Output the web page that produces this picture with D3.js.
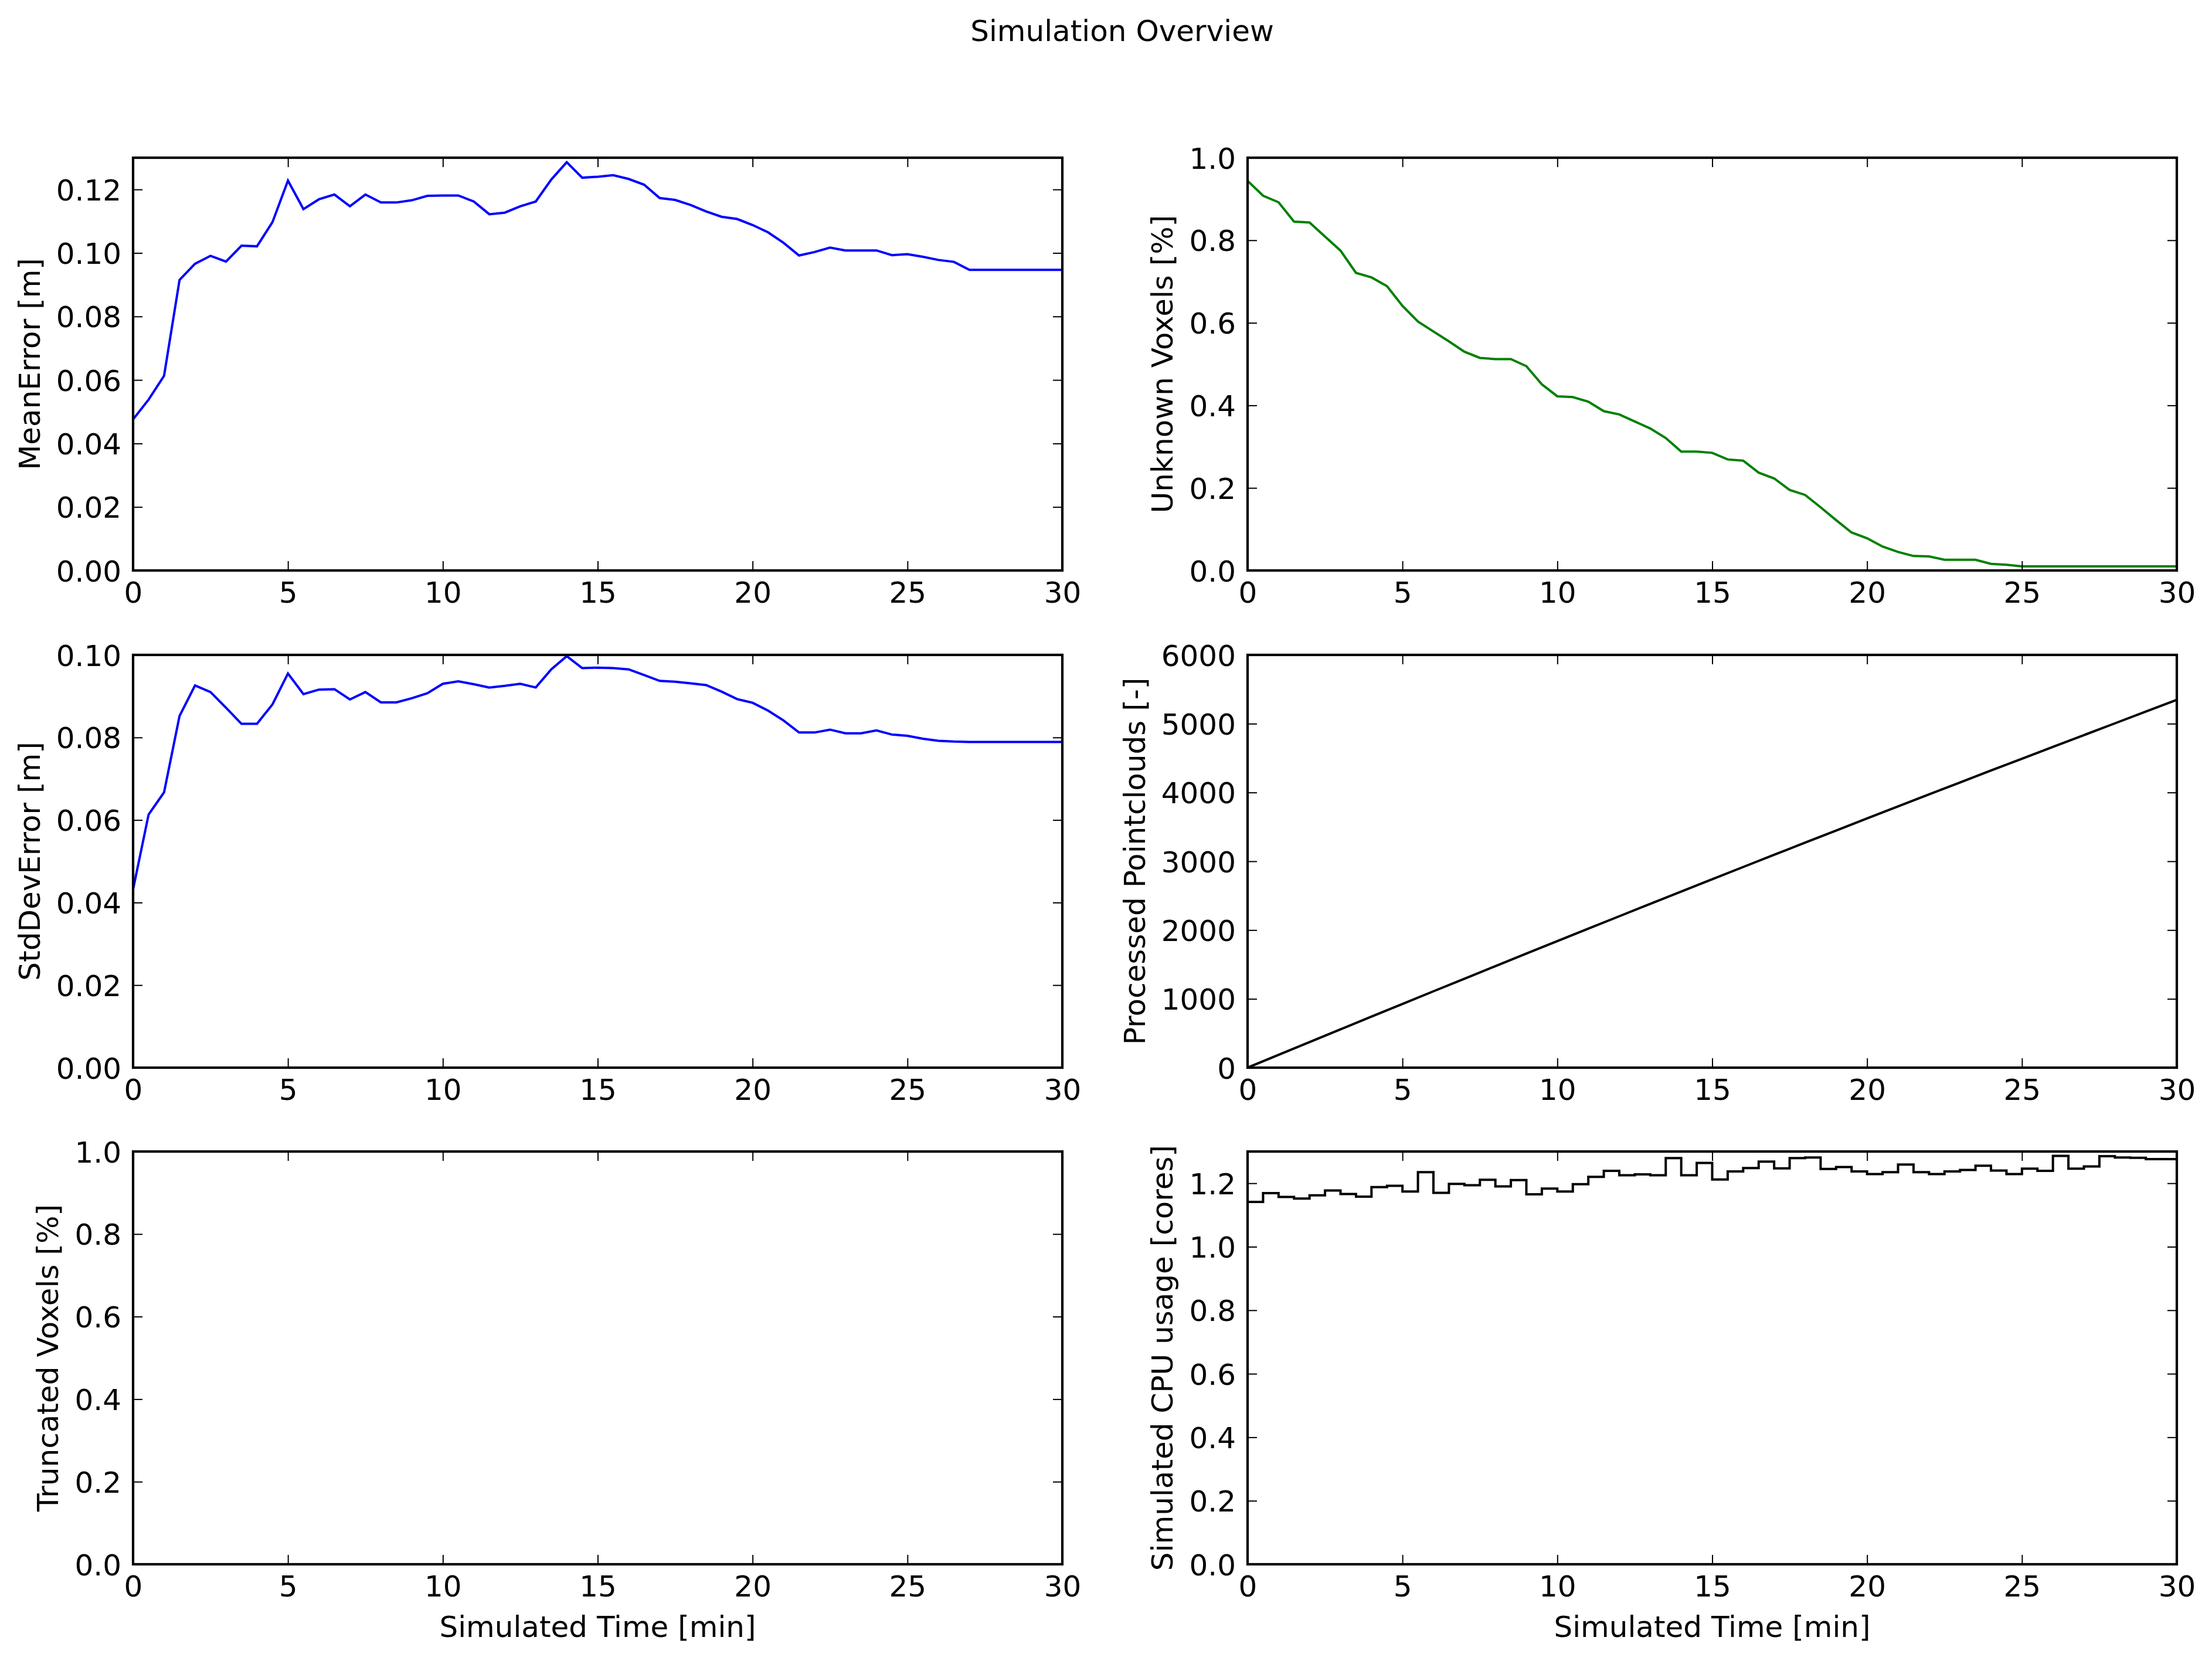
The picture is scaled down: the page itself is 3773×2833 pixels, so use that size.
<!DOCTYPE html>
<html>
    <head>
        <meta charset="utf-8">
        <title>Simulation Overview</title>
        <script src="https://d3js.org/d3.v7.min.js" charset="utf-8"></script>
        <style type="text/css">
        body {
            margin: 0;
            background: white;
        }
        svg text {
            font-family: 'DejaVu Sans', sans-serif;
            font-size: 50px;
            fill: black;
        }
        </style>
    </head>
    <body>
        <script type="text/javascript">

        // sample times [min] of the error / voxel logs
        var sampleTimes = [0, 0.5, 1, 1.5, 2, 2.5, 3, 3.5, 4, 4.5, 5, 5.5, 6, 6.5, 7, 7.5, 8, 8.5, 9, 9.5,
                           10, 10.5, 11, 11.5, 12, 12.5, 13, 13.5, 14, 14.5, 15, 15.5, 16, 16.5, 17, 17.5, 18, 18.5, 19, 19.5,
                           20, 20.5, 21, 21.5, 22, 22.5, 23, 23.5, 24, 24.5, 25, 25.5, 26, 26.5, 27, 27.5, 28, 28.5, 29, 29.5, 30];

        var meanError = [0.0476, 0.0538, 0.0613, 0.0915, 0.0966, 0.0991, 0.0973, 0.1023, 0.1021, 0.1097,
                         0.1228, 0.1138, 0.1169, 0.1184, 0.1147, 0.1184, 0.1159, 0.1159, 0.1166, 0.1180,
                         0.1181, 0.1181, 0.1162, 0.1122, 0.1127, 0.1147, 0.1162, 0.1231, 0.1286, 0.1237,
                         0.1240, 0.1245, 0.1233, 0.1215, 0.1173, 0.1167, 0.1151, 0.1131, 0.1114, 0.1107,
                         0.1088, 0.1065, 0.1032, 0.0992, 0.1003, 0.1017, 0.1008, 0.1008, 0.1008, 0.0993,
                         0.0996, 0.0988, 0.0978, 0.0972, 0.0947, 0.0947, 0.0947, 0.0947, 0.0947, 0.0947, 0.0947];

        var stdDevError = [0.0432, 0.0613, 0.0667, 0.0852, 0.0926, 0.0910, 0.0872, 0.0833, 0.0833, 0.0880,
                           0.0955, 0.0905, 0.0916, 0.0917, 0.0892, 0.0910, 0.0885, 0.0885, 0.0895, 0.0907,
                           0.0930, 0.0936, 0.0929, 0.0921, 0.0925, 0.0930, 0.0921, 0.0965, 0.0997, 0.0968,
                           0.0969, 0.0968, 0.0965, 0.0951, 0.0937, 0.0935, 0.0931, 0.0927, 0.0911, 0.0893,
                           0.0884, 0.0865, 0.0841, 0.0812, 0.0812, 0.0819, 0.0810, 0.0810, 0.0817, 0.0807,
                           0.0804, 0.0797, 0.0792, 0.0790, 0.0789, 0.0789, 0.0789, 0.0789, 0.0789, 0.0789, 0.0789];

        var unknownVoxels = [0.944, 0.908, 0.892, 0.845, 0.843, 0.809, 0.775, 0.721, 0.710, 0.689,
                             0.641, 0.603, 0.579, 0.555, 0.530, 0.515, 0.512, 0.512, 0.495, 0.451,
                             0.422, 0.420, 0.409, 0.386, 0.378, 0.361, 0.344, 0.321, 0.288, 0.288,
                             0.285, 0.269, 0.266, 0.237, 0.223, 0.195, 0.183, 0.153, 0.122, 0.092,
                             0.078, 0.058, 0.045, 0.035, 0.034, 0.026, 0.026, 0.026, 0.016, 0.014,
                             0.010, 0.010, 0.010, 0.010, 0.010, 0.010, 0.010, 0.010, 0.010, 0.010, 0.010];

        var pointcloudTimes = [0, 1, 2, 3, 4, 5, 6, 7, 8, 9, 10, 11, 12, 13, 14, 15,
                               16, 17, 18, 19, 20, 21, 22, 23, 24, 25, 26, 27, 28, 29, 30];
        var pointclouds = [0, 186, 372, 557, 742, 926, 1110, 1293, 1476, 1658, 1840, 2021, 2201, 2381, 2560, 2739,
                           2917, 3094, 3271, 3447, 3623, 3798, 3972, 4146, 4319, 4491, 4663, 4834, 5005, 5176, 5347];

        // one value per half-minute interval
        var cpuUsage = [1.141, 1.169, 1.157, 1.152, 1.162, 1.177, 1.166, 1.158, 1.188, 1.192,
                        1.174, 1.235, 1.170, 1.198, 1.194, 1.211, 1.190, 1.210, 1.165, 1.183,
                        1.174, 1.197, 1.220, 1.239, 1.225, 1.228, 1.225, 1.279, 1.225, 1.264,
                        1.212, 1.237, 1.248, 1.268, 1.247, 1.279, 1.281, 1.245, 1.251, 1.237,
                        1.229, 1.235, 1.259, 1.235, 1.229, 1.237, 1.242, 1.255, 1.240, 1.229,
                        1.246, 1.239, 1.286, 1.246, 1.253, 1.285, 1.281, 1.280, 1.276, 1.276];

        var xTicks = [0, 5, 10, 15, 20, 25, 30];

        var W = 3773, H = 2833;
        var colX = [227, 2128];
        var rowY = [269, 1117, 1964];
        var pw = 1585, ph = 704;

        var svg = d3.select('body')
            .append('svg')
            .attr('width', W)
            .attr('height', H);

        svg.append('text')
           .text('Simulation Overview')
           .attr('x', 1914)
           .attr('y', 70)
           .attr('text-anchor', 'middle');

        function zipXY(xs, ys){
            return xs.map(function(x, i){ return [x, ys[i]]; });
        }

        var cpuPoints = zipXY(sampleTimes.slice(0, cpuUsage.length), cpuUsage);
        cpuPoints.push([sampleTimes[sampleTimes.length - 1], cpuUsage[cpuUsage.length - 1]]);

        var panels = [
            {row: 0, col: 0, label: 'MeanError [m]', ymax: 0.13, yticks: [0, 0.02, 0.04, 0.06, 0.08, 0.10, 0.12], fmt: '.2f',
             data: zipXY(sampleTimes, meanError), color: '#0000ff', curve: d3.curveLinear},
            {row: 0, col: 1, label: 'Unknown Voxels [%]', ymax: 1.0, yticks: [0, 0.2, 0.4, 0.6, 0.8, 1.0], fmt: '.1f',
             data: zipXY(sampleTimes, unknownVoxels), color: '#008000', curve: d3.curveLinear},
            {row: 1, col: 0, label: 'StdDevError [m]', ymax: 0.10, yticks: [0, 0.02, 0.04, 0.06, 0.08, 0.10], fmt: '.2f',
             data: zipXY(sampleTimes, stdDevError), color: '#0000ff', curve: d3.curveLinear},
            {row: 1, col: 1, label: 'Processed Pointclouds [-]', ymax: 6000, yticks: [0, 1000, 2000, 3000, 4000, 5000, 6000], fmt: 'd',
             data: zipXY(pointcloudTimes, pointclouds), color: '#000000', curve: d3.curveLinear},
            {row: 2, col: 0, label: 'Truncated Voxels [%]', ymax: 1.0, yticks: [0, 0.2, 0.4, 0.6, 0.8, 1.0], fmt: '.1f',
             data: null, xlabel: true},
            {row: 2, col: 1, label: 'Simulated CPU usage [cores]', ymax: 1.3, yticks: [0, 0.2, 0.4, 0.6, 0.8, 1.0, 1.2], fmt: '.1f',
             data: cpuPoints, color: '#000000', curve: d3.curveStepAfter, xlabel: true}
        ];

        panels.forEach(function(p, idx){
            var x0 = colX[p.col], y0 = rowY[p.row];
            var x = d3.scaleLinear().domain([0, 30]).range([0, pw]);
            var y = d3.scaleLinear().domain([0, p.ymax]).range([ph, 0]);

            var g = svg.append('g').attr('transform', 'translate(' + x0 + ',' + y0 + ')');

            g.append('clipPath')
             .attr('id', 'clip' + idx)
             .append('rect')
             .attr('width', pw)
             .attr('height', ph);

            if (p.data){
                g.append('path')
                 .datum(p.data)
                 .attr('clip-path', 'url(#clip' + idx + ')')
                 .attr('fill', 'none')
                 .attr('stroke', p.color)
                 .attr('stroke-width', 4)
                 .attr('stroke-linejoin', 'miter')
                 .attr('d', d3.line()
                    .curve(p.curve)
                    .x(function(d){ return x(d[0]); })
                    .y(function(d){ return y(d[1]); }));
            }

            var bottom = g.append('g')
                .attr('transform', 'translate(0,' + ph + ')')
                .call(d3.axisBottom(x).tickValues(xTicks).tickFormat(d3.format('d'))
                    .tickSizeInner(-16).tickSizeOuter(0).tickPadding(19));
            g.append('g')
                .call(d3.axisTop(x).tickValues(xTicks).tickFormat('')
                    .tickSizeInner(-16).tickSizeOuter(0));

            var left = g.append('g')
                .call(d3.axisLeft(y).tickValues(p.yticks).tickFormat(d3.format(p.fmt))
                    .tickSizeInner(-16).tickSizeOuter(0).tickPadding(20));
            g.append('g')
                .attr('transform', 'translate(' + pw + ',0)')
                .call(d3.axisRight(y).tickValues(p.yticks).tickFormat('')
                    .tickSizeInner(-16).tickSizeOuter(0));

            g.selectAll('.domain').remove();
            g.selectAll('.tick line').attr('stroke', 'black').attr('stroke-width', 2);
            g.selectAll('.tick text')
             .attr('fill', 'black')
             .style('font-family', "'DejaVu Sans', sans-serif")
             .style('font-size', '50px');
            left.selectAll('.tick text').attr('dy', '0.36em');

            g.append('rect')
             .attr('width', pw)
             .attr('height', ph)
             .attr('fill', 'none')
             .attr('stroke', 'black')
             .attr('stroke-width', 4.2);

            var maxW = 0;
            left.selectAll('.tick text').each(function(){
                maxW = Math.max(maxW, this.getComputedTextLength());
            });
            var lx = -20 - maxW - 16 - 12;

            g.append('text')
             .text(p.label)
             .attr('text-anchor', 'middle')
             .attr('transform', 'translate(' + lx + ',' + (ph / 2) + ') rotate(-90)');

            if (p.xlabel){
                g.append('text')
                 .text('Simulated Time [min]')
                 .attr('text-anchor', 'middle')
                 .attr('x', pw / 2)
                 .attr('y', ph + 124);
            }
        });

        </script>
    </body>
</html>
